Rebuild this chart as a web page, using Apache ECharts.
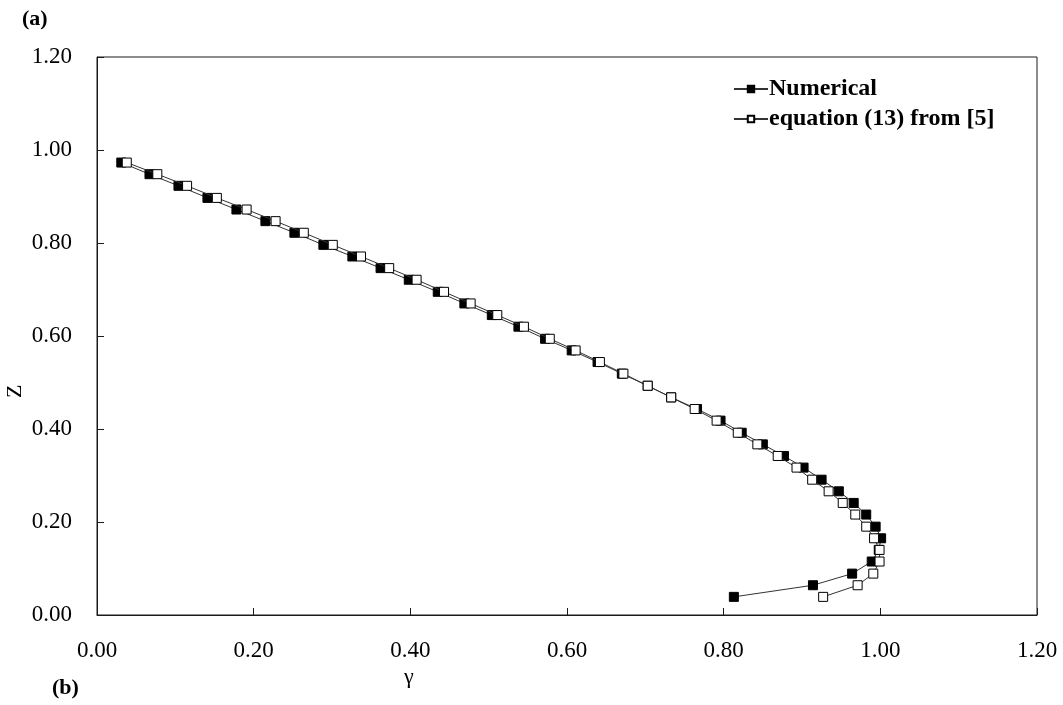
<!DOCTYPE html>
<html>
<head>
<meta charset="utf-8">
<script src="https://cdn.jsdelivr.net/npm/echarts@6/dist/echarts.min.js"></script>
<style>
    html, body { margin: 0; padding: 0; background: #fff; }
    #chart { width: 1063px; height: 705px; }
</style>
</head>
<body>
<div id="chart"></div>
<script>
// Z positions (shared by both series)
const zValues = [
    0.973, 0.948, 0.923, 0.897, 0.872, 0.847, 0.822, 0.796, 0.771, 0.746,
    0.721, 0.695, 0.670, 0.645, 0.620, 0.594, 0.569, 0.544, 0.519, 0.493,
    0.468, 0.443, 0.418, 0.392, 0.367, 0.342, 0.317, 0.291, 0.266, 0.241,
    0.216, 0.190, 0.165, 0.140, 0.115, 0.089, 0.064, 0.039
];
const numericalGamma = [
    0.031, 0.067, 0.104, 0.141, 0.178, 0.215, 0.252, 0.289, 0.326, 0.362,
    0.398, 0.435, 0.469, 0.504, 0.538, 0.572, 0.606, 0.639, 0.670, 0.703,
    0.733, 0.766, 0.796, 0.823, 0.850, 0.877, 0.902, 0.925, 0.947, 0.966,
    0.982, 0.994, 1.001, 0.998, 0.989, 0.964, 0.914, 0.813
];
const equationGamma = [
    0.038, 0.077, 0.115, 0.153, 0.191, 0.228, 0.264, 0.301, 0.337, 0.373,
    0.408, 0.443, 0.477, 0.511, 0.545, 0.578, 0.611, 0.642, 0.672, 0.703,
    0.733, 0.763, 0.791, 0.818, 0.843, 0.869, 0.893, 0.913, 0.934, 0.952,
    0.968, 0.982, 0.992, 0.999, 0.999, 0.991, 0.971, 0.927
];
const seriesNames = ['Numerical', 'equation (13) from [5]'];
const axisTicks = { min: 0, max: 1.2, interval: 0.2 };

const serif = '"Liberation Serif", "DejaVu Serif", serif';
const ink = '#1a1a1a';

const toPairs = gammas => gammas.map((g, i) => [g, zValues[i]]);

const chart = echarts.init(document.getElementById('chart'));
const option = {
    animation: false,
    backgroundColor: '#fff',
    grid: {
        left: 97,
        right: 26,
        top: 57,
        bottom: 90,
        show: true,
        borderColor: ink,
        borderWidth: 1
    },
    legend: {
        orient: 'vertical',
        left: 728,
        top: 72,
        itemWidth: 34,
        itemHeight: 8,
        itemGap: 6,
        textStyle: {
            fontFamily: serif,
            fontWeight: 'bold',
            fontSize: 24,
            color: '#000',
            padding: [0, 0, 0, -4]
        },
        data: seriesNames
    },
    xAxis: {
        type: 'value',
        min: axisTicks.min,
        max: axisTicks.max,
        interval: axisTicks.interval,
        axisLine: { lineStyle: { color: ink, width: 1 } },
        axisTick: { inside: true, length: 7, lineStyle: { color: ink } },
        splitLine: { show: false },
        axisLabel: {
            margin: 24,
            fontFamily: serif,
            fontSize: 23,
            color: '#000',
            formatter: v => v.toFixed(2)
        }
    },
    yAxis: {
        type: 'value',
        min: axisTicks.min,
        max: axisTicks.max,
        interval: axisTicks.interval,
        axisLine: { show: true, lineStyle: { color: ink, width: 1 } },
        axisTick: { show: true, inside: true, length: 7, lineStyle: { color: ink } },
        splitLine: { show: false },
        axisLabel: {
            margin: 25,
            fontFamily: serif,
            fontSize: 23,
            color: '#000',
            formatter: v => v.toFixed(2)
        }
    },
    graphic: [
        { type: 'text', left: 22, top: 8, style: { text: '(a)', font: 'bold 22px ' + serif, fill: '#000' } },
        { type: 'text', left: 52, top: 677, style: { text: '(b)', font: 'bold 22px ' + serif, fill: '#000' } },
        { type: 'text', left: 404, top: 666, style: { text: 'γ', font: '22px ' + serif, fill: '#000' } },
        {
            type: 'text', x: 4, y: 398, rotation: Math.PI / 2,
            style: { text: 'Z', font: '22px ' + serif, fill: '#000' }
        }
    ],
    series: [
        {
            name: seriesNames[0],
            type: 'line',
            data: toPairs(numericalGamma),
            symbol: 'rect',
            symbolSize: 9,
            lineStyle: { color: '#333', width: 1 },
            itemStyle: { color: '#000', borderColor: '#000', borderWidth: 1 },
            z: 2
        },
        {
            name: seriesNames[1],
            type: 'line',
            data: toPairs(equationGamma),
            symbol: 'rect',
            symbolSize: 9,
            lineStyle: { color: '#333', width: 1 },
            itemStyle: { color: '#fff', borderColor: '#000', borderWidth: 1 },
            z: 3
        }
    ]
};
chart.setOption(option);
</script>
</body>
</html>
